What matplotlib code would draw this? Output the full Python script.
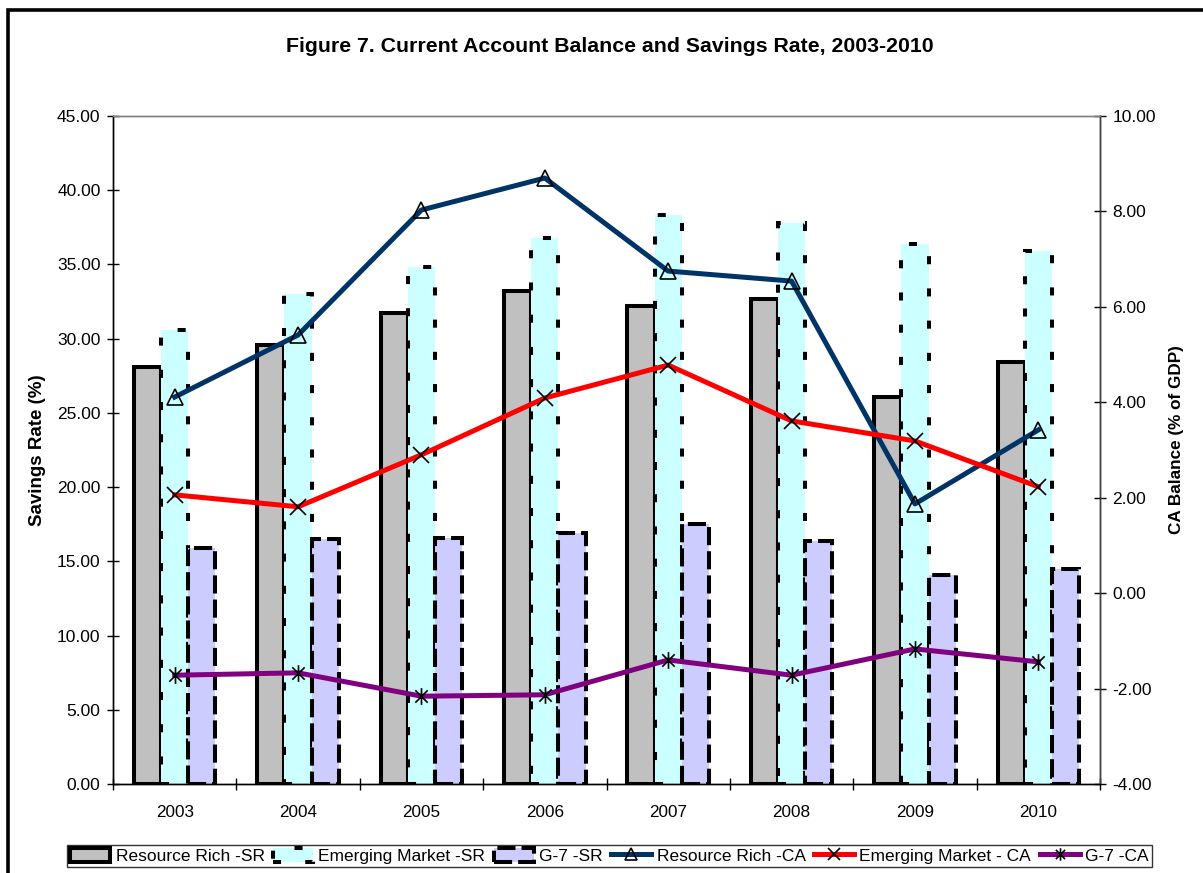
import matplotlib
matplotlib.use("Agg")
import matplotlib.pyplot as plt
import numpy as np
from matplotlib.path import Path
from matplotlib.patches import Rectangle, Patch
from matplotlib.lines import Line2D

plt.rcParams['font.family'] = ['Liberation Sans', 'DejaVu Sans']

years = ['2003', '2004', '2005', '2006', '2007', '2008', '2009', '2010']
rr_sr = [28.1, 29.6, 31.7, 33.2, 32.2, 32.7, 26.1, 28.4]
em_sr = [30.6, 33.0, 34.8, 36.8, 38.3, 37.8, 36.4, 35.9]
g7_sr = [15.9, 16.5, 16.6, 16.9, 17.5, 16.4, 14.1, 14.5]
rr_ca = [4.11, 5.41, 8.03, 8.70, 6.75, 6.54, 1.87, 3.42]
em_ca = [2.06, 1.81, 2.90, 4.09, 4.78, 3.61, 3.19, 2.23]
g7_ca = [-1.72, -1.67, -2.16, -2.13, -1.40, -1.72, -1.17, -1.44]

left_ticks = np.arange(0, 45.01, 5)
right_ticks = np.arange(-4, 10.01, 2)

fig = plt.figure(figsize=(12.03, 8.73), dpi=100)
ax = fig.add_axes([113/1203, 1-784/873, (1100-113)/1203, (784-116)/873])
ax2 = ax.twinx()

x = np.arange(len(years))
w = 0.22
lw_bar = 2.9
dash_em = (0, (2.0, 6.0))
dash_g7 = (0, (4.5, 1.5))
ax.bar(x - w, rr_sr, w, color='#c0c0c0', edgecolor='black', linewidth=lw_bar, zorder=2)
ax.bar(x, em_sr, w, color='#ccffff', edgecolor='black', linewidth=lw_bar,
       linestyle=dash_em, zorder=2)
ax.bar(x + w, g7_sr, w, color='#ccccff', edgecolor='black', linewidth=lw_bar,
       linestyle=dash_g7, zorder=2)

ast = Path([(-1, -1), (1, 1), (-1, 1), (1, -1), (0, -1.35), (0, 1.35)],
           [Path.MOVETO, Path.LINETO, Path.MOVETO, Path.LINETO, Path.MOVETO, Path.LINETO])

ax2.plot(x, rr_ca, color='#003366', lw=3.6, marker='^', ms=12, mfc='none',
         mec='black', mew=1.2, zorder=3)
ax2.plot(x, em_ca, color='#ff0000', lw=3.6, marker='x', ms=12,
         mec='black', mew=1.2, zorder=3)
ax2.plot(x, g7_ca, color='#800080', lw=3.6, marker=ast, ms=12, mfc='none',
         mec='black', mew=1.2, zorder=3)

ax.set_xlim(-0.5, len(years) - 0.5)
ax.set_ylim(0, 45)
ax2.set_ylim(-4, 10)
ax.set_yticks(left_ticks)
ax.set_yticklabels([f'{v:.2f}' for v in left_ticks])
ax2.set_yticks(right_ticks)
ax2.set_yticklabels([f'{v:.2f}' for v in right_ticks])
ax.set_xticks(x)
ax.set_xticklabels(years)
ax.set_xticks(np.arange(-0.5, len(years)), minor=True)
ax.tick_params(axis='x', which='major', length=0, pad=15, labelsize=12.3)
ax.tick_params(axis='x', which='minor', length=8, direction='inout', width=1)
ax.tick_params(axis='y', length=8, direction='inout', width=1, labelsize=12.5, pad=5)
ax2.tick_params(axis='y', length=8, direction='inout', width=1, labelsize=12.5, pad=5)

for a in (ax, ax2):
    for s in a.spines.values():
        s.set_linewidth(1.0)
    a.spines['top'].set_color('#808080')
ax.spines['left'].set_color('black')
ax2.spines['right'].set_color('#404040')

ax.set_ylabel('Savings Rate (%)', fontsize=13.5, fontweight='bold', labelpad=8)
ax2.set_ylabel('CA Balance (% of GDP)', fontsize=12.3, fontweight='bold')
ax2.yaxis.set_label_coords(1.0704, 0.516)

fig.text(610/1203, 1-47/873, 'Figure 7. Current Account Balance and Savings Rate, 2003-2010',
         ha='center', va='center', fontsize=15.3, fontweight='bold')

handles = [
    Patch(facecolor='#c0c0c0', edgecolor='black', linewidth=lw_bar),
    Patch(facecolor='#ccffff', edgecolor='black', linewidth=lw_bar, linestyle=dash_em),
    Patch(facecolor='#ccccff', edgecolor='black', linewidth=lw_bar, linestyle=dash_g7),
    Line2D([], [], color='#003366', lw=3.6, marker='^', ms=9, mfc='none', mec='black', mew=1.2),
    Line2D([], [], color='#ff0000', lw=3.6, marker='x', ms=9, mec='black', mew=1.2),
    Line2D([], [], color='#800080', lw=3.6, marker=ast, ms=9, mfc='none', mec='black', mew=1.2),
]
labels = ['Resource Rich -SR', 'Emerging Market -SR', 'G-7 -SR',
          'Resource Rich -CA', 'Emerging Market - CA', 'G-7 -CA']
leg = fig.legend(handles, labels, loc='center', bbox_to_anchor=(609.5/1203, 1-856/873),
                 ncol=6, fontsize=12.5, frameon=True, fancybox=False, edgecolor='black',
                 handlelength=2.3, handleheight=0.85, handletextpad=0.3, columnspacing=0.5,
                 borderpad=0.2, borderaxespad=0)
leg.get_frame().set_linewidth(1.0)

fig.patches.append(Rectangle((8/1203, -0.05), 1.2, 1 - 10/873 + 0.05,
                             transform=fig.transFigure, fill=False,
                             edgecolor='black', linewidth=2.6))

fig.savefig('out.png', dpi=100)
